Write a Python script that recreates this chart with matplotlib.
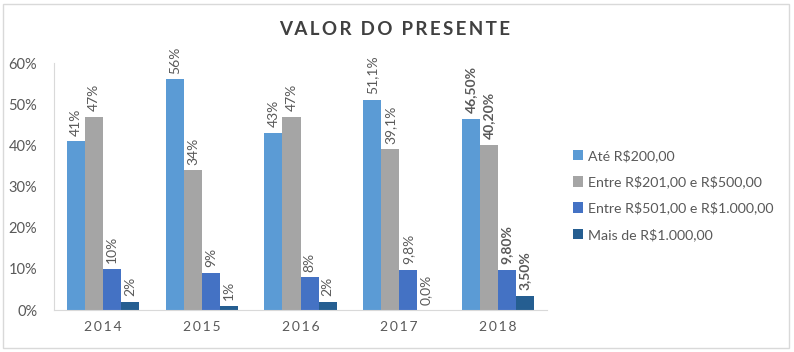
import matplotlib.pyplot as plt
import numpy as np
from matplotlib.patches import Rectangle

anos = ['2014', '2015', '2016', '2017', '2018']
series = ['Até R$200,00', 'Entre R$201,00 e R$500,00',
          'Entre R$501,00 e R$1.000,00', 'Mais de R$1.000,00']
ate_200 = [0.41, 0.56, 0.43, 0.511, 0.465]
de_201_500 = [0.47, 0.34, 0.47, 0.391, 0.402]
de_501_1000 = [0.10, 0.09, 0.08, 0.098, 0.098]
mais_1000 = [0.02, 0.01, 0.02, 0.0, 0.035]
rotulos = [
    ['41%', '56%', '43%', '51,1%', '46,50%'],
    ['47%', '34%', '47%', '39,1%', '40,20%'],
    ['10%', '9%', '8%', '9,8%', '9,80%'],
    ['2%', '1%', '2%', '0,0%', '3,50%'],
]
cores = ['#5B9BD5', '#A5A5A5', '#4472C4', '#255E91']

plt.rcParams['font.family'] = ['Lato', 'DejaVu Sans']
plt.rcParams['text.parse_math'] = False
texto = '#595959'


def espacar(s, sep='\u2009'):
    return sep.join(s)


fig = plt.figure(figsize=(7.94, 3.52), dpi=100)
fig.patches.append(Rectangle((0.004, 0.01), 0.99, 0.98, transform=fig.transFigure,
                             fill=False, edgecolor='#D9D9D9', linewidth=1))
ax = fig.add_axes([0.068, 0.119, 0.621, 0.702])

valores = [ate_200, de_201_500, de_501_1000, mais_1000]
x = np.arange(len(anos))
w = 0.183
for i, (vals, nome, cor) in enumerate(zip(valores, series, cores)):
    pos = x + (i - 1.5) * w
    ax.bar(pos, vals, width=w, color=cor, label=nome)
    for j, (p, v) in enumerate(zip(pos, vals)):
        ax.annotate(rotulos[i][j], (p, v), xytext=(0, 4), textcoords='offset points',
                    rotation=90, ha='center', va='bottom', fontsize=10, color=texto,
                    fontweight='bold' if anos[j] == '2018' else 'normal')

ax.set_xlim(-0.5, len(anos) - 0.5)
ax.set_ylim(0, 0.6)
ax.set_yticks(np.arange(0, 0.61, 0.1))
ax.set_yticklabels([f'{int(round(t * 100))}%' for t in np.arange(0, 0.61, 0.1)])
ax.set_xticks(x)
ax.set_xticklabels([espacar(a) for a in anos])
ax.tick_params(axis='both', length=0, colors=texto, labelsize=10.5)
ax.tick_params(axis='x', pad=8)
ax.tick_params(axis='y', pad=12)
for lbl in ax.get_xticklabels():
    lbl.set_fontsize(10)
for s in ['top', 'right']:
    ax.spines[s].set_visible(False)
ax.spines['left'].set_color('#D9D9D9')
ax.spines['bottom'].set_color('#D9D9D9')

titulo = '  '.join(espacar(p) for p in 'VALOR DO PRESENTE'.split())
fig.text(0.497, 0.915, titulo, ha='center', va='center',
         fontsize=13.5, fontweight='bold', color='#404040')

fig.legend(loc='center left', bbox_to_anchor=(0.705, 0.446), frameon=False,
           fontsize=10.2, handlelength=0.75, handleheight=0.75, handletextpad=0.35,
           labelspacing=0.95, labelcolor=texto)

fig.savefig('out.png', dpi=100)
